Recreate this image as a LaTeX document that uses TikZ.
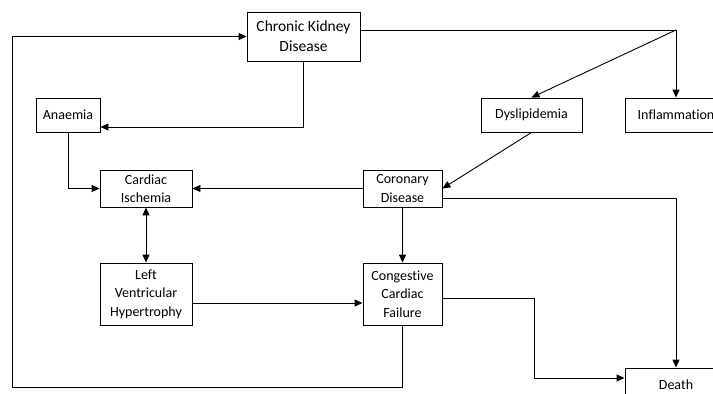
\documentclass[tikz,border=0pt]{standalone}
\usepackage{fontspec}
\setmainfont[Ligatures=NoCommon]{Carlito}
\usetikzlibrary{arrows.meta}
\tikzstyle{boxn}=[draw,rectangle,align=center,inner sep=0pt,line width=0.9pt,font=\fontsize{14}{18.5}\selectfont]
\tikzstyle{boxbig}=[boxn,font=\fontsize{15.5}{20}\selectfont]
\tikzstyle{arr}=[line width=0.9pt,-{Triangle[length=8pt,width=7pt]}]
\tikzstyle{arrb}=[line width=0.9pt,{Triangle[length=8pt,width=7pt]}-{Triangle[length=8pt,width=7pt]}]

\begin{document}
\begin{tikzpicture}[x=1pt,y=-1pt]
    \useasboundingbox (0,0) rectangle (713,394);
    \node[boxbig,minimum width=113pt,minimum height=49pt] (ckd) at (303.5,36.5) {Chronic Kidney\\Disease};
    \node[boxn,minimum width=64pt,minimum height=34pt] (anaemia) at (68,115) {Anaemia};
    \node[boxn,minimum width=101pt,minimum height=34pt] (dys) at (531.5,115) {Dyslipidemia};
    \node[boxn,minimum width=102pt,minimum height=34pt] (infl) at (676,115) {Inflammation};
    \node[boxn,minimum width=92pt,minimum height=37pt] (ci) at (146,188.5) {Cardiac\\Ischemia};
    \node[boxn,minimum width=79pt,minimum height=37pt] (cd) at (402.5,188.5) {Coronary\\Disease};
    \node[boxn,minimum width=92pt,minimum height=62pt] (lvh) at (146,294) {Left\\Ventricular\\Hypertrophy};
    \node[boxn,minimum width=79pt,minimum height=62pt] (ccf) at (402.5,294) {Congestive\\Cardiac\\Failure};
    \node[boxn,minimum width=102pt,minimum height=34pt] (death) at (676,385) {Death};

    \coordinate (split) at (676,30);
    \coordinate (turn) at (534,378);
    \coordinate (loop) at (12,387);

    % kidney disease branches
    \draw[line width=0.9pt] (ckd.east |- split) -- (split);
    \draw[arr] (split) -- (infl.north);
    \draw[arr] (split) -- (dys.north);
    \draw[arr] (ckd.south) |- ([yshift=-12pt]anaemia.east);
    \draw[arr] (anaemia.south) |- (ci.west);

    % heart
    \draw[arr] (dys.south) -- (cd.east);
    \draw[arr] (cd.west) -- (ci.east);
    \draw[arrb] (ci.south) -- (lvh.north);
    \draw[arr] ([yshift=-9pt]lvh.east) -- ([yshift=-9pt]ccf.west);
    \draw[arr] (cd.south) -- (ccf.north);

    % outcomes
    \draw[arr] ([yshift=-10pt]cd.east) -| (death.north);
    \draw[arr] ([yshift=-4pt]ccf.east) -| (turn) -- (turn -| death.west);
    \draw[arr] (ccf.south) |- (loop) |- (ckd.west);
\end{tikzpicture}
\end{document}
